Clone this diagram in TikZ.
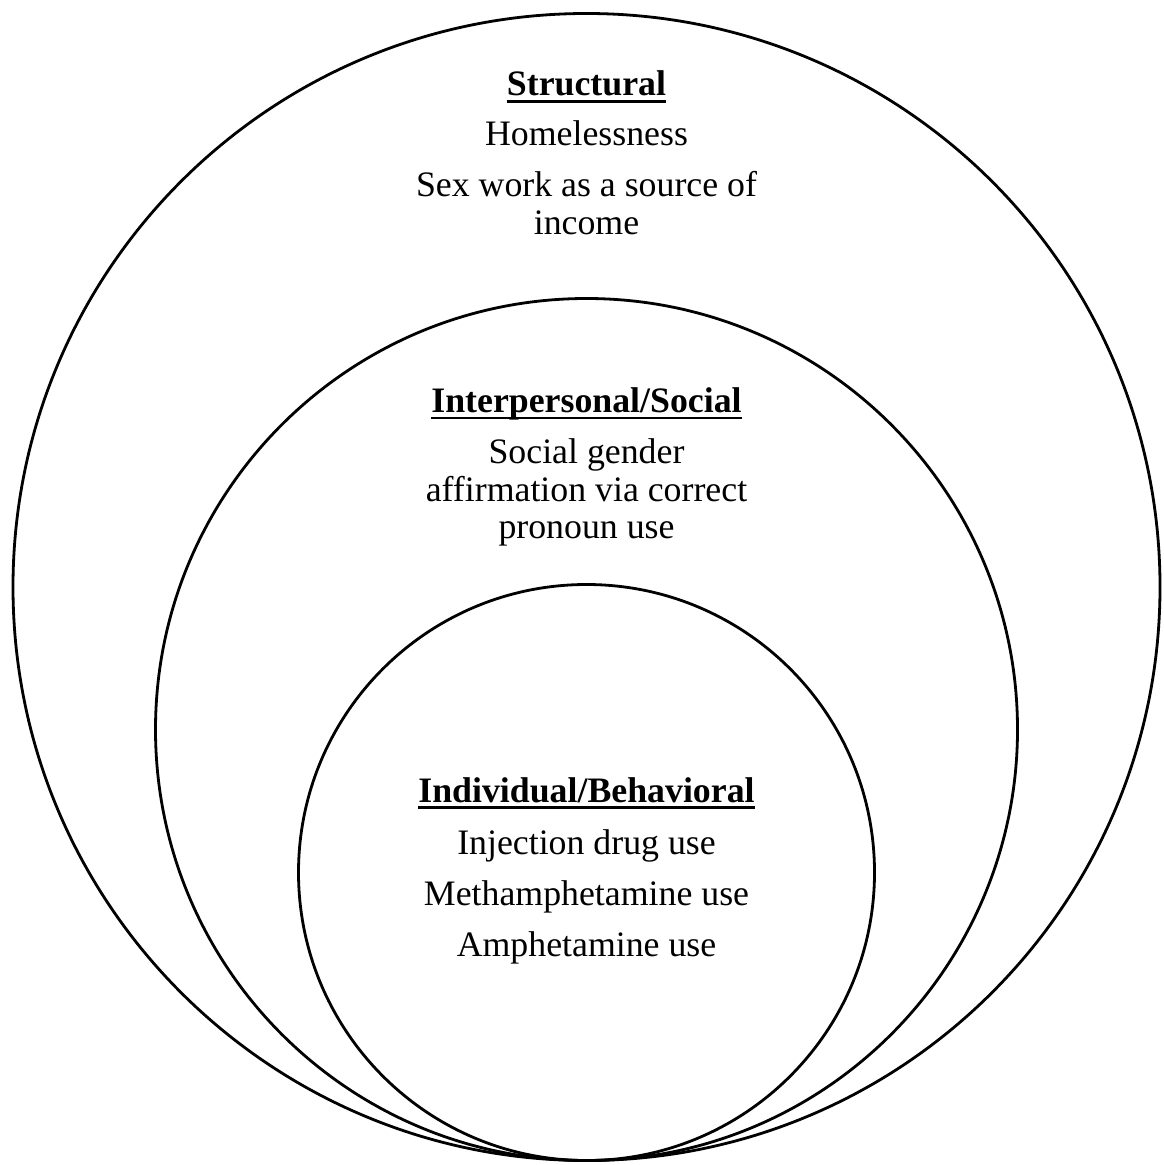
\documentclass[tikz,border=0pt]{standalone}
\usepackage{fontspec}
\setmainfont{Liberation Serif}
\usetikzlibrary{positioning}

\begin{document}
\begin{tikzpicture}[x=0.5pt,y=-0.5pt,on grid,
  ring/.style={line width=1.4pt},
  txt/.style={font=\fontsize{17.9}{20}\selectfont,text height=12.5pt,text depth=4pt,inner sep=0pt},
  head/.style={txt,font=\fontsize{17.9}{20}\selectfont\bfseries},
  uline/.style={line width=1.3pt}]
\useasboundingbox (0,0) rectangle (1163,1165);

% three levels, all touching at the bottom
\draw[ring] (586.5,587) circle (573.5);
\draw[ring] (586.5,729.5) circle (431);
\draw[ring] (586.5,872.5) circle (288);

% structural
\node[head] (struct) at (586.5,87.5) {Structural};
\node[txt] (home) [below=25pt of struct] {Homelessness};
\node[txt] (sex) [below=25.5pt of home] {Sex work as a source of};
\node[txt] (income) [below=19pt of sex] {income};

% interpersonal
\node[head] (inter) at (586.5,404) {Interpersonal/Social};
\node[txt] (gender) [below=25.5pt of inter] {Social gender};
\node[txt] (affirm) [below=19pt of gender] {affirmation via correct};
\node[txt] (pronoun) [below=18.5pt of affirm] {pronoun use};

% individual
\node[head] (indiv) at (586.5,793.5) {Individual/Behavioral};
\node[txt] (inject) [below=26pt of indiv] {Injection drug use};
\node[txt] (meth) [below=25.5pt of inject] {Methamphetamine use};
\node[txt] (amph) [below=25.5pt of meth] {Amphetamine use};

\foreach \h in {struct,inter,indiv}
  \draw[uline] ([yshift=-2.8pt]\h.base west) -- ([yshift=-2.8pt]\h.base east);
\end{tikzpicture}
\end{document}
